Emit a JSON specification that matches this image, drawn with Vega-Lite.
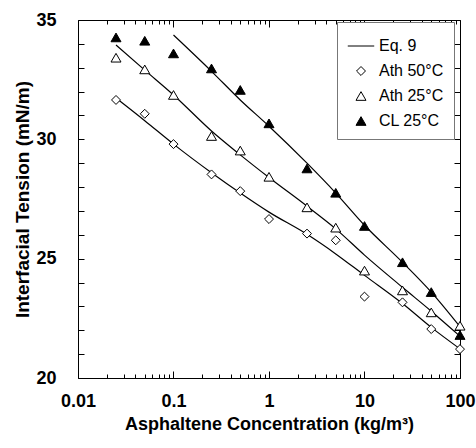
{
  "$schema": "https://vega.github.io/schema/vega-lite/v6.json",
  "width": 382,
  "height": 358,
  "autosize": {"type": "none"},
  "padding": {"left": 78, "top": 20, "right": 16, "bottom": 70},
  "config": {
    "font": "Liberation Sans",
    "view": {"stroke": "black", "strokeWidth": 1},
    "axis": {"domain": false, "ticks": true, "tickColor": "black", "tickWidth": 1, "tickOpacity": 1, "zindex": 1, "labelColor": "black", "titleColor": "black", "grid": false, "labelFont": "Liberation Sans", "titleFont": "Liberation Sans"}
  },
  "datasets": {
    "points": [
      {"c": 0.025, "v": 31.65, "series": "Ath 50°C"},
      {"c": 0.05, "v": 31.07, "series": "Ath 50°C"},
      {"c": 0.1, "v": 29.80, "series": "Ath 50°C"},
      {"c": 0.25, "v": 28.53, "series": "Ath 50°C"},
      {"c": 0.5, "v": 27.83, "series": "Ath 50°C"},
      {"c": 1, "v": 26.66, "series": "Ath 50°C"},
      {"c": 2.5, "v": 26.05, "series": "Ath 50°C"},
      {"c": 5, "v": 25.77, "series": "Ath 50°C"},
      {"c": 10, "v": 23.41, "series": "Ath 50°C"},
      {"c": 25, "v": 23.17, "series": "Ath 50°C"},
      {"c": 50, "v": 22.05, "series": "Ath 50°C"},
      {"c": 100, "v": 21.21, "series": "Ath 50°C"},
      {"c": 0.025, "v": 33.42, "series": "Ath 25°C"},
      {"c": 0.05, "v": 32.93, "series": "Ath 25°C"},
      {"c": 0.1, "v": 31.86, "series": "Ath 25°C"},
      {"c": 0.25, "v": 30.14, "series": "Ath 25°C"},
      {"c": 0.5, "v": 29.53, "series": "Ath 25°C"},
      {"c": 1, "v": 28.43, "series": "Ath 25°C"},
      {"c": 2.5, "v": 27.15, "series": "Ath 25°C"},
      {"c": 5, "v": 26.30, "series": "Ath 25°C"},
      {"c": 10, "v": 24.50, "series": "Ath 25°C"},
      {"c": 25, "v": 23.67, "series": "Ath 25°C"},
      {"c": 50, "v": 22.75, "series": "Ath 25°C"},
      {"c": 100, "v": 22.19, "series": "Ath 25°C"},
      {"c": 0.025, "v": 34.27, "series": "CL 25°C"},
      {"c": 0.05, "v": 34.13, "series": "CL 25°C"},
      {"c": 0.1, "v": 33.60, "series": "CL 25°C"},
      {"c": 0.25, "v": 32.97, "series": "CL 25°C"},
      {"c": 0.5, "v": 32.07, "series": "CL 25°C"},
      {"c": 1, "v": 30.67, "series": "CL 25°C"},
      {"c": 2.5, "v": 28.78, "series": "CL 25°C"},
      {"c": 5, "v": 27.76, "series": "CL 25°C"},
      {"c": 10, "v": 26.37, "series": "CL 25°C"},
      {"c": 25, "v": 24.85, "series": "CL 25°C"},
      {"c": 50, "v": 23.60, "series": "CL 25°C"},
      {"c": 100, "v": 21.80, "series": "CL 25°C"}
    ],
    "curves": [
      {"c": 0.025, "v": 31.73, "curve": "A"},
      {"c": 0.05, "v": 30.78, "curve": "A"},
      {"c": 0.1, "v": 29.80, "curve": "A"},
      {"c": 0.25, "v": 28.60, "curve": "A"},
      {"c": 0.5, "v": 27.75, "curve": "A"},
      {"c": 1, "v": 26.95, "curve": "A"},
      {"c": 2.5, "v": 26.02, "curve": "A"},
      {"c": 5, "v": 25.20, "curve": "A"},
      {"c": 10, "v": 24.30, "curve": "A"},
      {"c": 25, "v": 23.12, "curve": "A"},
      {"c": 50, "v": 22.12, "curve": "A"},
      {"c": 100, "v": 21.22, "curve": "A"},
      {"c": 0.025, "v": 33.95, "curve": "B"},
      {"c": 0.05, "v": 32.90, "curve": "B"},
      {"c": 0.1, "v": 31.86, "curve": "B"},
      {"c": 0.25, "v": 30.35, "curve": "B"},
      {"c": 0.5, "v": 29.35, "curve": "B"},
      {"c": 1, "v": 28.40, "curve": "B"},
      {"c": 2.5, "v": 27.20, "curve": "B"},
      {"c": 5, "v": 26.25, "curve": "B"},
      {"c": 10, "v": 25.15, "curve": "B"},
      {"c": 25, "v": 23.80, "curve": "B"},
      {"c": 50, "v": 22.80, "curve": "B"},
      {"c": 100, "v": 21.75, "curve": "B"},
      {"c": 0.1, "v": 34.37, "curve": "C"},
      {"c": 0.25, "v": 32.85, "curve": "C"},
      {"c": 0.5, "v": 31.65, "curve": "C"},
      {"c": 1, "v": 30.55, "curve": "C"},
      {"c": 2.5, "v": 29.00, "curve": "C"},
      {"c": 5, "v": 27.75, "curve": "C"},
      {"c": 10, "v": 26.40, "curve": "C"},
      {"c": 25, "v": 24.85, "curve": "C"},
      {"c": 50, "v": 23.60, "curve": "C"},
      {"c": 100, "v": 22.15, "curve": "C"}
    ]
  },
  "layer": [
    {
      "data": {"name": "curves"},
      "mark": {"type": "line", "color": "black", "strokeWidth": 1.2, "interpolate": "monotone"},
      "encoding": {
        "x": {
          "field": "c", "type": "quantitative",
          "scale": {"type": "log", "domain": [0.01, 100]},
          "axis": {
            "orient": "bottom", "ticks": false,
            "title": "Asphaltene Concentration (kg/m³)",
            "titleFontSize": 18, "titleFontWeight": "bold", "titlePadding": 5,
            "values": [0.01, 0.1, 1, 10, 100],
            "labelExpr": "toString(datum.value)",
            "labelFontSize": 18, "labelFontWeight": "bold", "labelOverlap": false, "labelFlush": false, "labelPadding": 14
          }
        },
        "y": {
          "field": "v", "type": "quantitative",
          "scale": {"domain": [20, 35]},
          "axis": {
            "orient": "left", "ticks": false,
            "title": "Interfacial Tension (mN/m)",
            "titleFontSize": 19, "titleFontWeight": "bold", "titlePadding": 3,
            "values": [20, 25, 30, 35],
            "labelFontSize": 18, "labelFontWeight": "bold", "labelOverlap": false, "labelFlush": false, "labelPadding": 22
          }
        },
        "detail": {"field": "curve", "type": "nominal"}
      }
    },
    {
      "data": {"name": "points"},
      "mark": {"type": "point", "filled": true, "stroke": "black", "strokeWidth": 1, "opacity": 1},
      "encoding": {
        "x": {
          "field": "c", "type": "quantitative",
          "scale": {"type": "log", "domain": [0.01, 100]},
          "axis": {"orient": "bottom", "title": null, "labels": false, "ticks": true, "values": [0.01, 0.1, 1, 10, 100], "tickSize": -7}
        },
        "y": {
          "field": "v", "type": "quantitative",
          "scale": {"domain": [20, 35]},
          "axis": {"orient": "left", "title": null, "labels": false, "ticks": true, "values": [20,21,22,23,24,25,26,27,28,29,30,31,32,33,34,35], "tickSize": -6}
        },
        "shape": {
          "field": "series", "type": "nominal",
          "scale": {"domain": ["Eq. 9", "Ath 50°C", "Ath 25°C", "CL 25°C"], "range": ["stroke", "diamond", "triangle-up", "triangle-up"]},
          "legend": {
            "title": null, "orient": "none", "legendX": 259, "legendY": 2,
            "padding": 10, "strokeColor": "#777777", "fillColor": "white",
            "labelFontSize": 16, "labelFont": "Liberation Sans", "labelColor": "black",
            "rowPadding": 9, "symbolStrokeColor": "black", "symbolStrokeWidth": 1, "labelOffset": 4
          }
        },
        "fill": {
          "field": "series", "type": "nominal",
          "scale": {"domain": ["Eq. 9", "Ath 50°C", "Ath 25°C", "CL 25°C"], "range": ["black", "white", "white", "black"]}
        },
        "size": {
          "field": "series", "type": "nominal",
          "scale": {"type": "ordinal", "domain": ["Eq. 9", "Ath 50°C", "Ath 25°C", "CL 25°C"], "range": [700, 80, 100, 100]}
        }
      }
    },
    {
      "data": {"name": "curves"},
      "mark": {"type": "line", "opacity": 0},
      "encoding": {
        "x": {
          "field": "c", "type": "quantitative",
          "scale": {"type": "log", "domain": [0.01, 100]},
          "axis": {"orient": "bottom", "title": null, "labels": false, "ticks": true, "values": [0.02,0.03,0.04,0.05,0.06,0.07,0.08,0.09,0.2,0.3,0.4,0.5,0.6,0.7,0.8,0.9,2,3,4,5,6,7,8,9,20,30,40,50,60,70,80,90], "tickSize": -4}
        },
        "y": {
          "field": "v", "type": "quantitative",
          "scale": {"domain": [20, 35]},
          "axis": {"orient": "right", "title": null, "labels": false, "ticks": true, "values": [20,21,22,23,24,25,26,27,28,29,30,31,32,33,34,35], "tickSize": -6}
        },
        "detail": {"field": "curve", "type": "nominal"}
      }
    },
    {
      "data": {"name": "curves"},
      "mark": {"type": "line", "opacity": 0},
      "encoding": {
        "x": {
          "field": "c", "type": "quantitative",
          "scale": {"type": "log", "domain": [0.01, 100]},
          "axis": {"orient": "top", "title": null, "labels": false, "ticks": true, "values": [0.01, 0.1, 1, 10, 100], "tickSize": -7}
        },
        "y": {"field": "v", "type": "quantitative", "scale": {"domain": [20, 35]}, "axis": null},
        "detail": {"field": "curve", "type": "nominal"}
      }
    },
    {
      "data": {"name": "curves"},
      "mark": {"type": "line", "opacity": 0},
      "encoding": {
        "x": {
          "field": "c", "type": "quantitative",
          "scale": {"type": "log", "domain": [0.01, 100]},
          "axis": {"orient": "top", "title": null, "labels": false, "ticks": true, "values": [0.02,0.03,0.04,0.05,0.06,0.07,0.08,0.09,0.2,0.3,0.4,0.5,0.6,0.7,0.8,0.9,2,3,4,5,6,7,8,9,20,30,40,50,60,70,80,90], "tickSize": -4}
        },
        "y": {"field": "v", "type": "quantitative", "scale": {"domain": [20, 35]}, "axis": null},
        "detail": {"field": "curve", "type": "nominal"}
      }
    }
  ],
  "resolve": {"axis": {"x": "independent", "y": "independent"}}
}
